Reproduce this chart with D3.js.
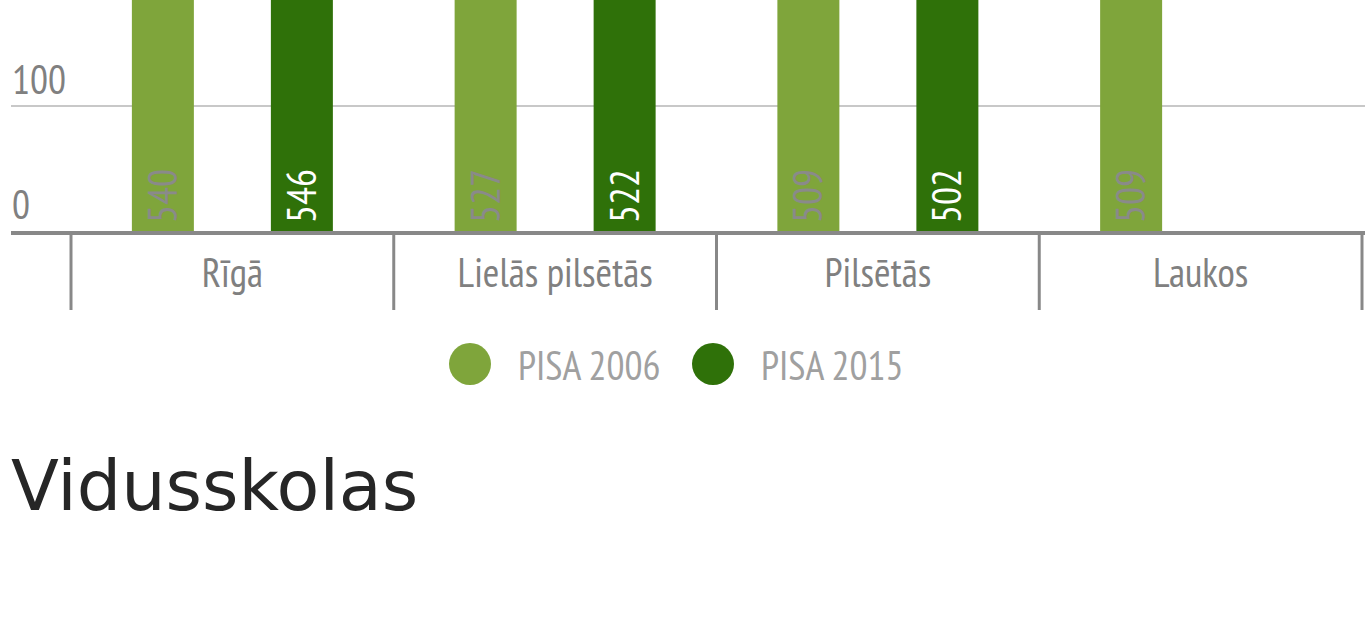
<!DOCTYPE html>
<html lang="lv">
<head>
    <meta charset="UTF-8">
    <title>PISA</title>
    <style>
        body { margin: 0; background: #fff; }
        svg { display: block; }
        .narrow {
            font-family: "PT Sans Narrow", "Liberation Sans Narrow", "DejaVu Sans Condensed", "Roboto", sans-serif;
            font-stretch: condensed;
        }
        .grid line { stroke: #c8c8c8; stroke-width: 2px; }
        .ylab { fill: #808080; font-size: 40px; }
        .xlab { fill: #808080; font-size: 40px; }
        .sep { stroke: #888; stroke-width: 3px; }
        .legend text { fill: #a0a0a0; font-size: 40px; }
        .title { font-family: "DejaVu Sans", Verdana, sans-serif; font-size: 70px; fill: #262626; }
    </style>
</head>
<body>
<script src="https://d3js.org/d3.v7.min.js"></script>
<script>
    // data
    var categories = ["Rīgā", "Lielās pilsētās", "Pilsētās", "Laukos"];
    var series = ["PISA 2006", "PISA 2015"];
    var pisa2006 = [540, 527, 509, 509];
    var pisa2015 = [546, 522, 502, null];
    var yTicks = [0, 100, 200, 300, 400, 500, 600];
    var colors = ["#7fa53b", "#2f7109"];
    var labelColors = ["#8a8a8a", "#ffffff"];

    var W = 1365, H = 622;

    var svg = d3.select("body").append("svg")
        .attr("width", W)
        .attr("height", H);

    // chart is scrolled: top of the bars is above the window
    var y = d3.scaleLinear().domain([0, 600]).range([231, -519]);
    var x0 = d3.scaleBand().domain(categories).range([71, 1362]).padding(0);
    var x1 = d3.scaleBand().domain(series).range([0, x0.bandwidth()])
        .paddingInner(0.554).paddingOuter(0.438);

    // only the ticks that are still on screen
    var shownTicks = yTicks.filter(function (d) { return y(d) > 40; });

    // grid
    var grid = svg.append("g").attr("class", "grid");
    grid.selectAll("line")
        .data(shownTicks.filter(function (d) { return d > 0; }))
        .enter().append("line")
        .attr("x1", 11).attr("x2", W)
        .attr("y1", function (d) { return y(d); })
        .attr("y2", function (d) { return y(d); });

    svg.append("g").selectAll("text")
        .data(shownTicks)
        .enter().append("text")
        .attr("class", "ylab narrow")
        .attr("x", 12)
        .attr("y", function (d) { return y(d) - 12; })
        .text(function (d) { return d; });

    // bars
    var rows = categories.map(function (c, i) {
        return { cat: c, vals: [pisa2006[i], pisa2015[i]] };
    });

    var groups = svg.append("g").selectAll("g")
        .data(rows)
        .enter().append("g")
        .attr("transform", function (d) { return "translate(" + x0(d.cat) + ",0)"; });

    var cells = groups.selectAll("g")
        .data(function (d) {
            return series.map(function (s, j) { return { s: s, j: j, v: d.vals[j] }; })
                .filter(function (e) { return e.v != null; });
        })
        .enter().append("g");

    cells.append("rect")
        .attr("x", function (d) { return x1(d.s); })
        .attr("width", x1.bandwidth())
        .attr("y", function (d) { return y(d.v); })
        .attr("height", function (d) { return y(0) - y(d.v); })
        .attr("fill", function (d) { return colors[d.j]; });

    cells.append("text")
        .attr("class", "narrow")
        .attr("transform", function (d) {
            return "translate(" + (x1(d.s) + x1.bandwidth() / 2 + 14) + "," + (y(0) - 8) + ") rotate(-90)";
        })
        .style("font-size", "40px")
        .attr("fill", function (d) { return labelColors[d.j]; })
        .text(function (d) { return d.v; });

    // x axis
    svg.append("line")
        .attr("x1", 11).attr("x2", W)
        .attr("y1", y(0) + 2).attr("y2", y(0) + 2)
        .attr("stroke", "#888").attr("stroke-width", 4);

    var seps = categories.map(function (c) { return x0(c); });
    seps.push(x0(categories[categories.length - 1]) + x0.bandwidth());

    svg.append("g").selectAll("line")
        .data(seps)
        .enter().append("line")
        .attr("class", "sep")
        .attr("x1", function (d) { return d; }).attr("x2", function (d) { return d; })
        .attr("y1", y(0) + 4).attr("y2", 310);

    svg.append("g").selectAll("text")
        .data(categories)
        .enter().append("text")
        .attr("class", "xlab narrow")
        .attr("x", function (d) { return x0(d) + x0.bandwidth() / 2; })
        .attr("y", 287)
        .attr("text-anchor", "middle")
        .text(function (d) { return d; });

    // legend
    var legend = svg.append("g").attr("class", "legend narrow");
    var lx = [470, 713];
    var item = legend.selectAll("g")
        .data(series)
        .enter().append("g")
        .attr("transform", function (d, i) { return "translate(" + lx[i] + ",364)"; });
    item.append("circle").attr("r", 21).attr("fill", function (d, i) { return colors[i]; });
    item.append("text").attr("x", 48).attr("y", 16).text(function (d) { return d; });

    // next section heading
    svg.append("text")
        .attr("class", "title")
        .attr("x", 11)
        .attr("y", 510)
        .text("Vidusskolas");
</script>
</body>
</html>
